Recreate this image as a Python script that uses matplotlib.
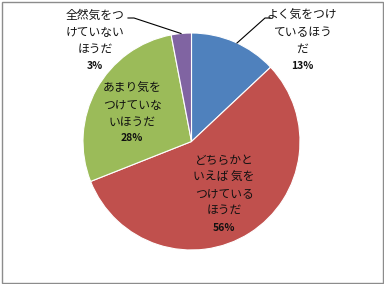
import matplotlib
matplotlib.use('Agg')
import matplotlib.pyplot as plt
from matplotlib.patches import Rectangle

plt.rcParams['font.family'] = ['Noto Sans CJK JP', 'DejaVu Sans']

# データ（時計回り、12時から）
labels = ['よく気をつけ\nているほう\nだ',
          'どちらかと\nいえば 気を\nつけている\nほうだ',
          'あまり気を\nつけていな\nいほうだ',
          '全然気をつ\nけていない\nほうだ']
values = [13, 56, 28, 3]
colors = ['#4F81BD', '#C0504D', '#9BBB59', '#8064A2']

W, H = 384, 284
fig = plt.figure(figsize=(W / 100, H / 100), dpi=100)
ax = fig.add_axes([0, 0, 1, 1])
ax.set_xlim(0, W)
ax.set_ylim(0, H)
ax.set_aspect('equal')
ax.axis('off')

cx, cy, r = 191.5, H - 141.5, 108.5
wedges, _ = ax.pie(values, colors=colors, startangle=90, counterclock=False,
                   center=(cx, cy), radius=r,
                   wedgeprops=dict(edgecolor='white', linewidth=0.8))
ax.set_xlim(0, W)
ax.set_ylim(0, H)

# ラベル位置（ピクセル、上から）: 名前ブロック中心, パーセント位置
pos = [(302, 32.5, 66), (224, 185.5, 228), (132, 105, 138), (95, 32.5, 66)]
fs = 8.5
for lab, v, (x, yn, yp) in zip(labels, values, pos):
    ax.text(x, H - yn, lab, ha='center', va='center', fontsize=fs,
            linespacing=1.38, color='#111111')
    ax.text(x, H - yp, f'{v}%', ha='center', va='center', fontsize=7.5,
            fontweight='bold', color='#111111')

# 引き出し線
ax.plot([270, 265, 237], [H - 18, H - 18, H - 43], color='black', lw=0.8)
ax.plot([128, 134, 181], [H - 18, H - 18, H - 33.5], color='black', lw=0.8)

fig.patches.append(Rectangle((1.5, 1.5), W - 3, H - 3, transform=None,
                             fill=False, edgecolor='#8c8c8c', lw=1))

fig.savefig('out.png', dpi=100)
